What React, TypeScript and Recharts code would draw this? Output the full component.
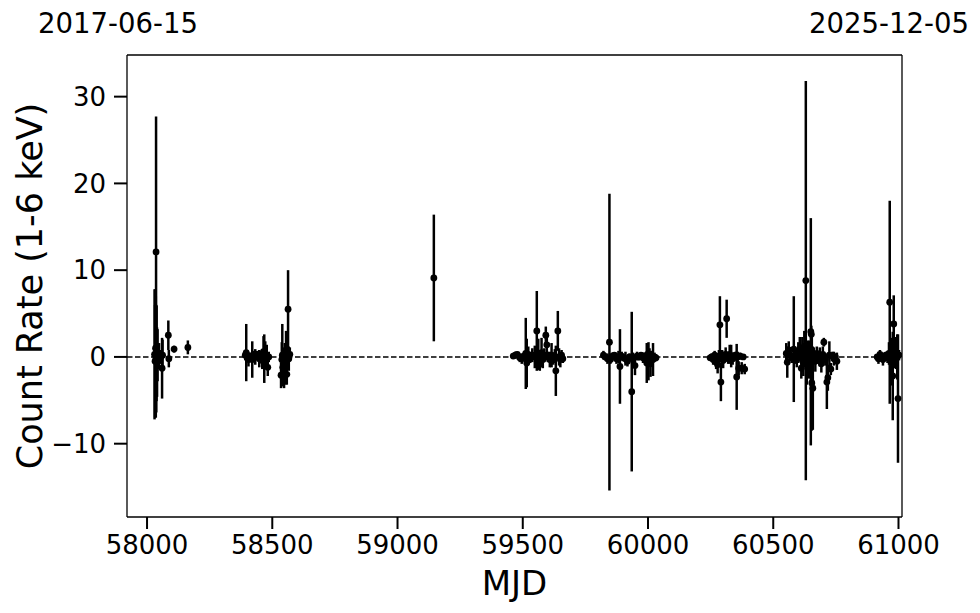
import { ScatterChart, Scatter, XAxis, YAxis, ErrorBar, ReferenceLine, Label } from 'recharts';

// [MJD, count rate, 1-sigma error]
const epoch2017: [number, number, number][] = [
  [58030, 0.3, 7.5], [58032, -0.5, 6.5], [58034, 1.0, 6.8], [58035, 0.0, 7.0],
  [58036, 12.1, 15.6], [58037, -0.2, 6.2], [58038, 0.4, 5.5], [58040, -0.6, 4.0],
  [58042, 0.2, 3.0], [58048, 0.1, 1.5], [58055, 0.0, 0.8], [58060, -1.3, 3.5],
  [58062, 0.2, 1.8], [58085, 2.5, 1.7], [58087, -0.2, 1.0], [58108, 0.9, 0.4],
  [58163, 1.1, 0.8],
];

const epoch2018: [number, number, number][] = [
  [58392, 0.2, 0.6], [58396, 0.5, 3.3], [58400, 0.0, 0.5], [58405, -0.3, 0.8],
  [58412, 0.1, 0.4], [58420, -0.3, 2.1], [58425, 0.2, 0.5], [58432, 0.0, 0.9],
  [58440, 0.3, 0.4], [58448, -0.2, 1.0], [58455, 0.1, 0.6], [58460, -0.4, 1.0],
  [58465, 0.6, 1.8], [58468, -0.2, 2.8], [58472, 0.3, 1.5], [58478, 0.2, 1.2],
  [58482, -1.2, 1.0], [58486, 0.0, 0.6],
  [58535, -2.1, 1.5], [58538, -0.3, 2.0], [58540, 0.2, 3.6], [58542, -1.2, 1.8],
  [58545, 0.1, 1.0], [58547, -1.6, 2.0], [58550, 0.4, 1.2], [58552, -0.8, 2.4],
  [58555, 0.0, 3.0], [58558, -2.0, 1.2], [58560, 0.6, 1.0], [58563, 5.5, 4.5],
  [58566, -0.2, 1.4], [58570, 0.3, 0.8],
];

const epoch2020: [number, number, number][] = [[59145, 9.1, 7.3]];

const epoch2021: [number, number, number][] = [
  [59462, 0.1, 0.3], [59470, 0.2, 0.4], [59478, 0.3, 0.3], [59488, -0.1, 0.5],
  [59496, -0.2, 0.6], [59505, 0.1, 0.5], [59512, 0.4, 4.1], [59516, -0.7, 2.8],
  [59522, 0.3, 0.9], [59530, -0.1, 0.6], [59538, 0.2, 0.8], [59548, 0.0, 1.3],
  [59556, 3.0, 4.6], [59562, 0.3, 1.8], [59568, -0.4, 1.2], [59575, 0.5, 1.7],
  [59580, -0.3, 1.0], [59586, 0.2, 0.8], [59592, 2.5, 1.0], [59596, 1.4, 1.2],
  [59600, 0.0, 0.6], [59608, -0.3, 0.9], [59615, 0.2, 1.4], [59622, -0.2, 0.7],
  [59628, 0.1, 0.8], [59632, -1.6, 2.9], [59640, 3.0, 2.3], [59645, 0.0, 1.0],
  [59650, -0.3, 0.9], [59655, 0.2, 0.6], [59660, -0.2, 0.5],
];

const epoch2022: [number, number, number][] = [
  [59822, 0.2, 0.5], [59830, 0.0, 0.3], [59838, -0.2, 0.6], [59846, 1.7, 17.1],
  [59850, -0.3, 0.5], [59858, 0.1, 0.4], [59866, 0.2, 0.3], [59874, -0.2, 0.6],
  [59882, 0.0, 0.7], [59888, -1.1, 4.3], [59895, 0.1, 0.5], [59902, -0.1, 0.4],
  [59910, -0.2, 0.8], [59918, -0.5, 0.6], [59926, 0.0, 0.4], [59935, -4.0, 9.2],
  [59940, -0.2, 0.7], [59948, -1.0, 1.1], [59956, 0.1, 0.5], [59964, 0.0, 0.4],
  [59972, 0.2, 0.3], [59980, -0.1, 0.6], [59988, 0.0, 0.5], [59995, -0.7, 2.3],
  [59998, 0.3, 1.3], [60002, -0.5, 2.2], [60006, 0.0, 1.0], [60010, -0.8, 1.5],
  [60015, 0.1, 0.6], [60020, -0.3, 1.9], [60026, 0.0, 0.5], [60032, -0.1, 0.4],
];

const epoch2023: [number, number, number][] = [
  [60248, -0.1, 0.3], [60254, 0.0, 0.4], [60260, -0.3, 0.6], [60266, 0.2, 0.5],
  [60272, -0.6, 0.8], [60278, -0.9, 1.0], [60283, 0.1, 0.7], [60287, 3.7, 3.3],
  [60291, -2.9, 2.2], [60296, 0.2, 0.6], [60300, -0.4, 0.9], [60305, 0.1, 0.5],
  [60310, 0.3, 0.8], [60314, 4.4, 2.2], [60320, -0.2, 0.6], [60326, 0.3, 1.1],
  [60332, 0.1, 1.3], [60338, -0.2, 0.7], [60344, 0.0, 0.5], [60350, 0.2, 0.4],
  [60354, -2.3, 3.8], [60358, 0.0, 0.6], [60362, -1.3, 0.8], [60368, 0.1, 0.4],
  [60374, -1.3, 0.7], [60380, 0.0, 0.3], [60386, -1.4, 0.6],
];

const epoch2024: [number, number, number][] = [
  [60552, 0.4, 1.2], [60556, -0.6, 1.8], [60562, 0.8, 1.0], [60568, 0.2, 0.7],
  [60574, -0.1, 0.6], [60582, 0.9, 6.1], [60588, 0.0, 0.8], [60594, -0.3, 0.9],
  [60600, 0.5, 1.2], [60606, 0.9, 1.4], [60612, -1.3, 1.2], [60616, 0.3, 2.0],
  [60620, -0.6, 1.6], [60624, 1.2, 1.8], [60630, 8.8, 23.0], [60634, -0.9, 2.3],
  [60638, 0.4, 1.5], [60642, -1.5, 1.0], [60646, 0.6, 1.3], [60650, 2.9, 13.1],
  [60652, 2.6, 1.0], [60654, -3.0, 5.5], [60658, -3.6, 4.8], [60662, 0.2, 0.9],
  [60668, -0.5, 1.2], [60674, 0.4, 0.8], [60680, -0.2, 0.6], [60686, 0.0, 1.1],
  [60692, -0.8, 1.0], [60698, 0.3, 0.9], [60702, 1.7, 0.5], [60708, -0.3, 0.7],
  [60714, -2.9, 3.1], [60718, -2.4, 1.5], [60724, 0.2, 1.6], [60730, -1.4, 0.7],
  [60736, 0.1, 0.5], [60742, -0.2, 0.8], [60748, 0.0, 0.4], [60754, -0.5, 1.0],
];

const epoch2025: [number, number, number][] = [
  [60915, 0.0, 0.3], [60920, -0.2, 0.6], [60926, 0.3, 0.5], [60932, 0.1, 0.4],
  [60938, -0.3, 0.7], [60944, 0.0, 0.5], [60950, 0.2, 0.4], [60956, -0.1, 0.6],
  [60962, 0.4, 1.3], [60965, 6.3, 11.7], [60970, 0.2, 2.0], [60974, -0.8, 2.5],
  [60977, -2.2, 5.1], [60981, 3.8, 3.3], [60985, 0.5, 1.8], [60990, 0.1, 1.5],
  [60995, 0.0, 2.6], [60998, -4.8, 7.4], [61002, 0.2, 0.6],
];

const xTicks = [58000, 58500, 59000, 59500, 60000, 60500, 61000];
const yTicks = [-10, 0, 10, 20, 30];
const dateTicks = [57920, 61014];
const dateLabels = ['2017-06-15', '2025-12-05'];

const xDomain: [number, number] = [57920, 61014];
const yDomain: [number, number] = [-18.45, 34.8];

const points = [...epoch2017, ...epoch2018, ...epoch2020, ...epoch2021, ...epoch2022, ...epoch2023, ...epoch2024, ...epoch2025]
  .map(([mjd, rate, err]) => ({ mjd, rate, err }));

const font = 'DejaVu Sans, sans-serif';
const tickStyle = { fill: '#000', fontSize: 26, fontFamily: font };
const spine = { stroke: '#000', strokeWidth: 1.3 };

const fmtY = (v: number) => (v < 0 ? `\u2212${Math.abs(v)}` : `${v}`);

const Dot = (p: any) => <circle cx={p.cx} cy={p.cy} r={3.4} fill="#000" />;
const NoDot = () => <g />;

const DateTick = (p: any) => {
  const i = dateTicks.indexOf(p.payload.value);
  return (
    <text x={p.x - (i === 0 ? 9 : 13)} y={33} textAnchor="middle" fill="#000" fontSize={27.5} fontFamily={font}>
      {dateLabels[i]}
    </text>
  );
};

export default function App() {
  return (
    <div style={{ position: 'absolute', left: 0, top: 0, background: '#fff' }}>
      <ScatterChart width={980} height={613} margin={{ top: 0, right: 78, bottom: 0, left: 0 }} style={{ fontFamily: font }}>
        <XAxis
          dataKey="mjd"
          type="number"
          domain={xDomain}
          ticks={xTicks}
          allowDataOverflow
          height={96}
          tickSize={12}
          tickMargin={7}
          tick={tickStyle}
          tickLine={{ stroke: '#000', strokeWidth: 2 }}
          axisLine={spine}
        >
          <Label value="MJD" position="insideBottom" offset={18} fill="#000" fontSize={34} fontFamily={font} />
        </XAxis>
        <XAxis
          xAxisId="top"
          dataKey="mjd"
          orientation="top"
          type="number"
          domain={xDomain}
          ticks={dateTicks}
          allowDataOverflow
          height={55}
          tickLine={false}
          tick={DateTick}
          axisLine={spine}
        />
        <YAxis
          dataKey="rate"
          type="number"
          domain={yDomain}
          ticks={yTicks}
          allowDataOverflow
          width={127}
          tickSize={13}
          tickMargin={8}
          tickFormatter={fmtY}
          tick={tickStyle}
          tickLine={{ stroke: '#000', strokeWidth: 2 }}
          axisLine={spine}
        >
          <Label
            content={(props: any) => {
              const vb = props.viewBox;
              const cx = vb.x + 42;
              const cy = vb.y + vb.height / 2;
              return (
                <text x={cx} y={cy} transform={`rotate(-90, ${cx}, ${cy})`} textAnchor="middle" fill="#000" fontSize={35} fontFamily={font}>
                  Count Rate (1-6 keV)
                </text>
              );
            }}
          />
        </YAxis>
        <ReferenceLine x={xDomain[1]} stroke="#000" strokeWidth={1.3} />
        <ReferenceLine y={0} stroke="#000" strokeWidth={1.6} strokeDasharray="5.5 2.5" />
        <Scatter data={points} xAxisId="top" shape={NoDot} isAnimationActive={false} />
        <Scatter data={points} shape={Dot} isAnimationActive={false}>
          <ErrorBar dataKey="err" direction="y" width={0} stroke="#000" strokeWidth={2.5} isAnimationActive={false} />
        </Scatter>
      </ScatterChart>
    </div>
  );
}
